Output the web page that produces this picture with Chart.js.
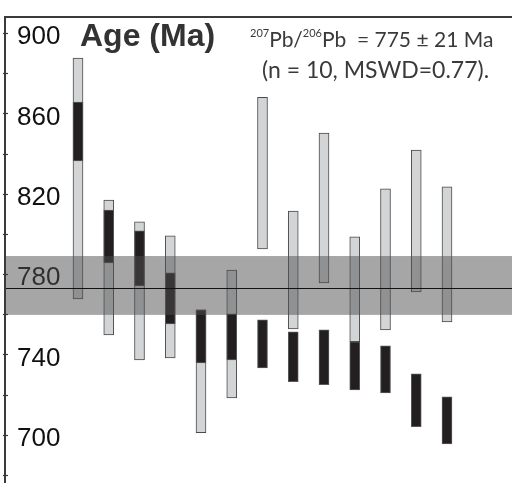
<!DOCTYPE html>
<html>
<head>
<meta charset="utf-8">
<script src="https://cdn.jsdelivr.net/npm/chart.js@4/dist/chart.umd.min.js"></script>
<style>
  html, body { margin: 0; padding: 0; background: #fff; }
  #wrap { width: 512px; height: 483px; }
</style>
</head>
<body>
<div id="wrap"><canvas id="ageChart" width="512" height="483"></canvas></div>
<script>
// spot analyses, left to right
const spots = [1, 2, 3, 4, 5, 6, 7, 8, 9, 10, 11, 12, 13];
// grey boxes (2 sigma)
const greyLow  = [767.7, 749.7, 737.3, 738.3, 701.0, 718.4, 792.5, 752.7, 775.6, 746.3, 752.2, 771.1, 756.2];
const greyHigh = [887.6, 816.9, 806.0, 799.0, 762.2, 782.0, 868.0, 811.4, 850.2, 798.5, 822.4, 841.7, 823.4];
// black boxes (1 sigma)
const blackLow  = [836.3, 785.6, 774.1, 755.2, 735.8, 737.3, 733.3, 726.4, 724.9, 722.4, 720.9, 704.0, 695.5];
const blackHigh = [865.7, 811.9, 801.5, 780.6, 762.2, 760.2, 757.2, 751.2, 752.2, 746.3, 744.3, 730.3, 718.9];
// weighted mean and its band
const meanAge = 773;
const bandLow = 759.7;
const bandHigh = 789;
const yTicks = [700, 740, 780, 820, 860, 900];

const toBars = (lo, hi) => spots.map((s, i) => ({ x: s, y: [lo[i], hi[i]] }));

const overlay = {
    id: 'overlay',
    afterDraw(chart) {
        const { ctx, chartArea: a, scales: { y } } = chart;
        ctx.save();
        // mean band
        const yTop = y.getPixelForValue(bandHigh);
        const yBot = y.getPixelForValue(bandLow);
        ctx.fillStyle = 'rgba(77,77,77,0.5)';
        ctx.fillRect(a.left, yTop, a.right - a.left, yBot - yTop);
        // mean line
        const ym = Math.round(y.getPixelForValue(meanAge)) + 0.5;
        ctx.strokeStyle = '#111';
        ctx.lineWidth = 1;
        ctx.beginPath();
        ctx.moveTo(a.left, ym);
        ctx.lineTo(a.right, ym);
        ctx.stroke();
        // frame: top and left
        ctx.strokeStyle = '#3a3a3a';
        ctx.lineWidth = 2;
        ctx.beginPath();
        ctx.moveTo(a.right, a.top);
        ctx.lineTo(a.left, a.top);
        ctx.lineTo(a.left, a.bottom);
        ctx.stroke();
        // inward tick marks
        ctx.lineWidth = 1.2;
        y.ticks.forEach(t => {
            const py = Math.round(y.getPixelForValue(t.value)) + 0.5;
            ctx.beginPath();
            ctx.moveTo(a.left - 2, py);
            ctx.lineTo(a.left + 3, py);
            ctx.stroke();
        });
        // texts
        ctx.fillStyle = '#333';
        ctx.textBaseline = 'alphabetic';
        ctx.font = 'bold 32px "Liberation Sans", Arial, sans-serif';
        ctx.fillText('Age (Ma)', 80, 46);

        ctx.fillStyle = '#3a3a3a';
        const big = '21px Lato, "Open Sans", sans-serif';
        const small = '11px Lato, "Open Sans", sans-serif';
        let x = 250;
        const base = 47;
        const parts = [
            ['207', small, -10], ['Pb/', big, 0], ['206', small, -10], ['Pb  = 775 \u00b1 21 Ma', big, 0]
        ];
        parts.forEach(([txt, f, dy]) => {
            ctx.font = f;
            ctx.fillText(txt, x, base + dy);
            x += ctx.measureText(txt).width;
        });
        ctx.font = '23px Lato, "Open Sans", sans-serif';
        ctx.fillText('(n = 10, MSWD=0.77).', 262, 78);
        ctx.restore();
    }
};

const ctx = document.getElementById('ageChart').getContext('2d');
const ageChart = new Chart(ctx, {
    type: 'bar',
    data: {
        datasets: [{
            label: '1 sigma',
            data: toBars(blackLow, blackHigh),
            backgroundColor: '#231f20',
            borderColor: '#5a5a5a',
            borderWidth: 1,
            borderSkipped: false,
            barThickness: 10,
            grouped: false,
            order: 0
        }, {
            label: '2 sigma',
            data: toBars(greyLow, greyHigh),
            backgroundColor: '#d3d4d6',
            borderColor: '#4a4a4a',
            borderWidth: 1,
            borderSkipped: false,
            barThickness: 10,
            grouped: false,
            order: 1
        }]
    },
    options: {
        responsive: false,
        animation: false,
        layout: { padding: { top: 17, left: 5, right: 0, bottom: 0 } },
        scales: {
            x: {
                type: 'linear',
                position: 'top',
                min: -1.374,
                max: 15.114,
                offset: false,
                grid: { display: false, drawTicks: false },
                ticks: { display: false },
                border: { display: false },
                afterFit: s => { s.height = 0; s.paddingLeft = 0; s.paddingRight = 0; }
            },
            y: {
                type: 'linear',
                min: 676,
                max: 908,
                grid: { display: false, drawTicks: false },
                border: { display: false },
                ticks: {
                    stepSize: 20,
                    includeBounds: false,
                    mirror: true,
                    padding: 12,
                    labelOffset: 4,
                    color: '#111',
                    font: { family: '"Liberation Sans", Arial, sans-serif', size: 26 },
                    callback: v => yTicks.includes(v) ? String(v) : ''
                },
                afterFit: s => { s.width = 0; s.paddingTop = 0; s.paddingBottom = 0; }
            }
        },
        plugins: {
            legend: { display: false },
            tooltip: { enabled: false }
        }
    },
    plugins: [overlay]
});
</script>
</body>
</html>
